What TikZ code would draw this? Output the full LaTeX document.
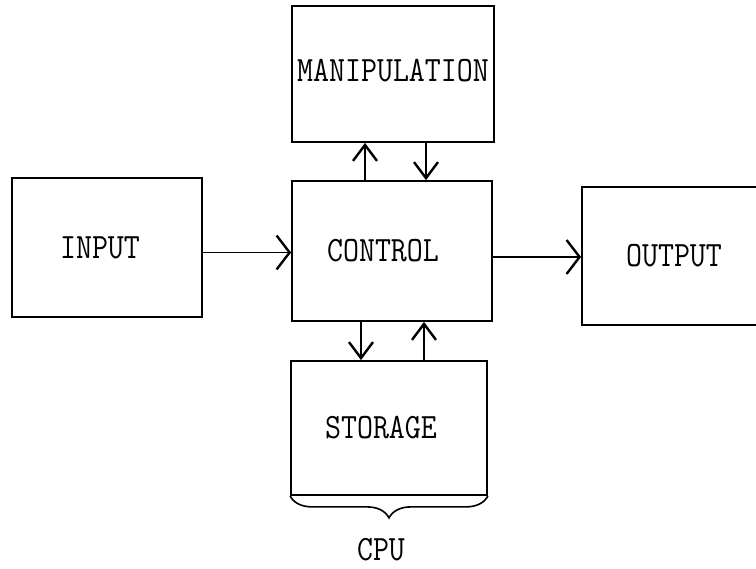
\documentclass[tikz,border=0pt]{standalone}
\usepackage{graphicx}
\usetikzlibrary{arrows.meta,decorations.pathreplacing}
\begin{document}
\begin{tikzpicture}[x=1pt,y=1pt,
  box/.style={draw,line width=1.8pt,inner sep=0pt,
    font=\ttfamily\fontsize{31}{33}\selectfont},
  harr/.style={line width=1.4pt,-{Straight Barb[length=13pt,width=34pt,line width=2.4pt]}},
  varr/.style={line width=2.4pt,-{Straight Barb[length=16pt,width=24pt,line width=2.4pt]}},
  lbl/.style={font=\ttfamily\fontsize{31}{33}\selectfont,inner sep=0pt}]
\useasboundingbox (0,0) rectangle (756,569);
\clip (0,0) rectangle (756,569);
% text, left shift (doubled), vertical raise
\newcommand\tw[3]{\raisebox{#3}{\scalebox{1}[1.15]{#1}}\hspace*{#2}}
\node[box,minimum width=202pt,minimum height=136pt] (manip) at (393,495) {\tw{MANIPULATION}{0pt}{8pt}};
\node[box,minimum width=200pt,minimum height=140pt] (ctrl) at (392,318) {\tw{CONTROL}{18pt}{-4pt}};
\node[box,minimum width=196pt,minimum height=134pt] (stor) at (389,141) {\tw{STORAGE}{16pt}{-4pt}};
\node[box,minimum width=190pt,minimum height=139pt] (input) at (107,321.5) {\tw{INPUT}{14pt}{-5pt}};
\node[box,minimum width=190pt,minimum height=138pt] (out) at (677,313) {\tw{OUTPUT}{6pt}{-4pt}};
\draw[harr] ([yshift=-5pt]input.east) -- ([yshift=-5pt]input.east -| ctrl.west);
\draw[harr] ([yshift=-6pt]ctrl.east) -- ([yshift=-6pt]ctrl.east -| out.west);
\draw[varr] (365,0 |- ctrl.north) -- (365,0 |- manip.south);
\draw[varr] (426,0 |- manip.south) -- (426,0 |- ctrl.north);
\draw[varr] (361,0 |- ctrl.south) -- (361,0 |- stor.north);
\draw[varr] (424,0 |- stor.north) -- (424,0 |- ctrl.south);
\draw[decorate,decoration={brace,mirror,amplitude=22pt},line width=1.6pt]
  (stor.south west) -- (stor.south east);
\node[lbl] (cpu) at (381,19) {\scalebox{1}[1.15]{CPU}};
\end{tikzpicture}
\end{document}
